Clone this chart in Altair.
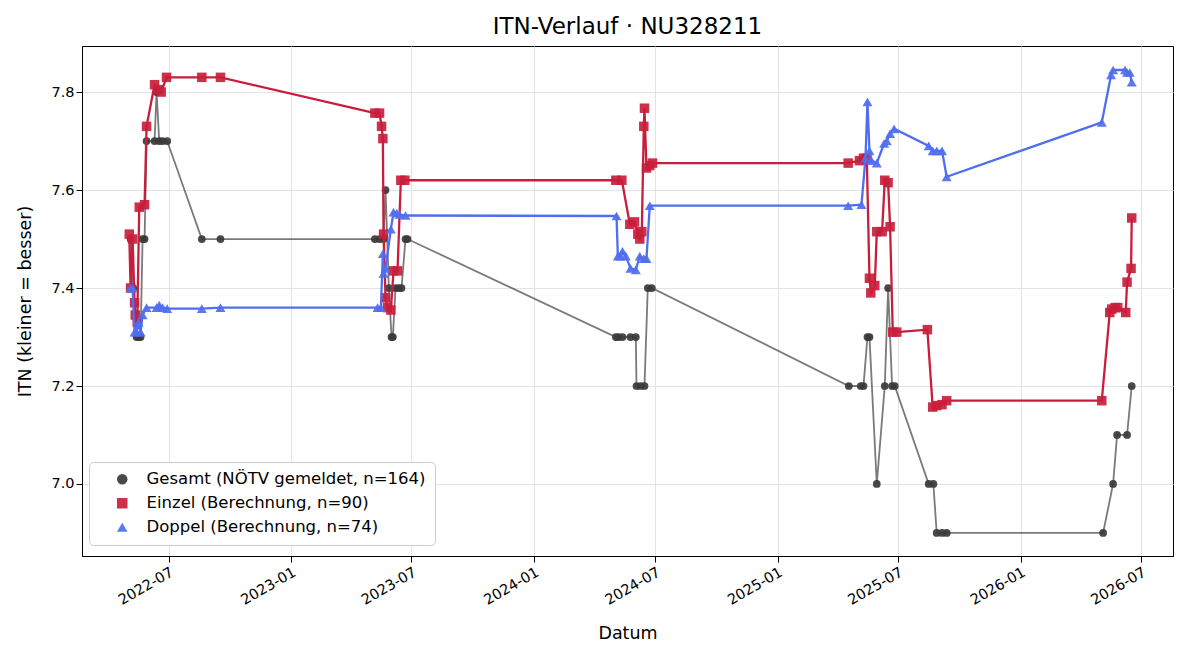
import altair as alt
import pandas as pd

series_names = [
    "Gesamt (NÖTV gemeldet, n=164)",
    "Einzel (Berechnung, n=90)",
    "Doppel (Berechnung, n=74)",
]

gesamt_dates = [
    "2022-05-05", "2022-05-09", "2022-05-14", "2022-05-17", "2022-05-20", "2022-05-23",
    "2022-05-26", "2022-05-29", "2022-06-10", "2022-06-13", "2022-06-17", "2022-06-22",
    "2022-06-29", "2022-08-20", "2022-09-17",
    "2023-05-07", "2023-05-14", "2023-05-20", "2023-05-23", "2023-05-28", "2023-06-01",
    "2023-06-03", "2023-06-07", "2023-06-12", "2023-06-16", "2023-06-22", "2023-06-25",
    "2024-05-03", "2024-05-07", "2024-05-13", "2024-05-25", "2024-06-02", "2024-06-03",
    "2024-06-09", "2024-06-15", "2024-06-20", "2024-06-26",
    "2025-04-18", "2025-05-06", "2025-05-10", "2025-05-16", "2025-05-19", "2025-05-30",
    "2025-06-11", "2025-06-16", "2025-06-22", "2025-06-26",
    "2025-08-16", "2025-08-23", "2025-08-28", "2025-09-05", "2025-09-12",
    "2026-05-05", "2026-05-20", "2026-05-26", "2026-06-10", "2026-06-17",
]
gesamt_values = [
    7.5, 7.4, 7.3, 7.3, 7.3, 7.5, 7.5, 7.7, 7.7, 7.8, 7.7, 7.7, 7.7, 7.5, 7.5,
    7.5, 7.5, 7.5, 7.6, 7.4, 7.3, 7.3, 7.4, 7.4, 7.4, 7.5, 7.5,
    7.3, 7.3, 7.3, 7.3, 7.3, 7.2, 7.2, 7.2, 7.4, 7.4,
    7.2, 7.2, 7.2, 7.3, 7.3, 7.0, 7.2, 7.4, 7.2, 7.2,
    7.0, 7.0, 6.9, 6.9, 6.9,
    6.9, 7.0, 7.1, 7.1, 7.2,
]

einzel_dates = [
    "2022-05-03", "2022-05-05", "2022-05-08", "2022-05-11", "2022-05-12", "2022-05-15",
    "2022-05-18", "2022-05-26", "2022-05-29", "2022-06-10", "2022-06-16", "2022-06-20",
    "2022-06-28", "2022-08-20", "2022-09-17",
    "2023-05-07", "2023-05-14", "2023-05-17", "2023-05-19", "2023-05-20", "2023-05-23",
    "2023-05-26", "2023-05-31", "2023-06-04", "2023-06-10", "2023-06-15", "2023-06-21",
    "2024-05-03", "2024-05-12", "2024-05-24", "2024-05-31", "2024-06-05", "2024-06-08",
    "2024-06-11", "2024-06-14", "2024-06-15", "2024-06-18", "2024-06-23", "2024-06-27",
    "2025-04-17", "2025-05-04", "2025-05-10", "2025-05-15", "2025-05-19", "2025-05-21",
    "2025-05-27", "2025-05-30", "2025-06-07", "2025-06-11", "2025-06-16", "2025-06-19",
    "2025-06-23", "2025-06-29",
    "2025-08-14", "2025-08-22", "2025-08-28", "2025-09-05", "2025-09-12",
    "2026-05-03", "2026-05-15", "2026-05-18", "2026-05-23", "2026-05-27", "2026-06-08",
    "2026-06-10", "2026-06-16", "2026-06-17",
]
einzel_values = [
    7.51, 7.40, 7.50, 7.37, 7.345, 7.33, 7.565, 7.57, 7.73, 7.815, 7.805, 7.80,
    7.83, 7.83, 7.83,
    7.757, 7.757, 7.73, 7.705, 7.51, 7.38, 7.36, 7.355, 7.435, 7.435, 7.62, 7.62,
    7.62, 7.62, 7.53, 7.535, 7.51, 7.50, 7.515, 7.73, 7.767, 7.645, 7.65, 7.655,
    7.655, 7.66, 7.665, 7.665, 7.42, 7.39, 7.405, 7.515, 7.515, 7.62, 7.615, 7.525,
    7.31, 7.31,
    7.315, 7.157, 7.16, 7.162, 7.17,
    7.17, 7.35, 7.357, 7.36, 7.36, 7.35, 7.412, 7.44, 7.543,
]

doppel_dates = [
    "2022-05-05", "2022-05-08", "2022-05-11", "2022-05-14", "2022-05-17", "2022-05-20",
    "2022-05-23", "2022-05-29", "2022-06-13", "2022-06-17", "2022-06-22", "2022-06-29",
    "2022-08-20", "2022-09-17",
    "2023-05-11", "2023-05-16", "2023-05-19", "2023-05-20", "2023-05-23", "2023-05-31",
    "2023-06-04", "2023-06-09", "2023-06-13", "2023-06-22",
    "2024-05-04", "2024-05-06", "2024-05-10", "2024-05-13", "2024-05-18", "2024-05-25",
    "2024-06-02", "2024-06-08", "2024-06-14", "2024-06-18", "2024-06-23",
    "2025-04-17", "2025-05-07", "2025-05-13", "2025-05-16", "2025-05-19", "2025-05-22",
    "2025-05-30", "2025-06-10", "2025-06-14", "2025-06-19", "2025-06-25",
    "2025-08-16", "2025-08-22", "2025-08-28", "2025-09-05", "2025-09-12",
    "2026-05-03", "2026-05-17", "2026-05-20", "2026-06-07", "2026-06-10", "2026-06-14",
    "2026-06-17",
]
doppel_values = [
    7.40, 7.40, 7.31, 7.31, 7.33, 7.31, 7.345, 7.36, 7.36, 7.365, 7.36, 7.358,
    7.358, 7.36,
    7.36, 7.36, 7.47, 7.43, 7.44, 7.52, 7.555, 7.553, 7.55, 7.548,
    7.547, 7.465, 7.465, 7.475, 7.465, 7.44, 7.437, 7.465, 7.46, 7.46, 7.568,
    7.568, 7.57, 7.665, 7.78, 7.68, 7.66, 7.655, 7.695, 7.70, 7.715, 7.725,
    7.69, 7.68, 7.68, 7.68, 7.627,
    7.738, 7.835, 7.845, 7.845, 7.84, 7.84, 7.82,
]

line_colors = ["#333333", "#c81e3c", "#4f6ef0"]
marker_colors = ["#3a3a3a", "#c81e3c", "#4f6ef0"]
shapes = ["circle", "square", "triangle-up"]

rows = []
for name, ds, vs in zip(series_names,
                        [gesamt_dates, einzel_dates, doppel_dates],
                        [gesamt_values, einzel_values, doppel_values]):
    for i, (d, v) in enumerate(zip(ds, vs)):
        rows.append({"Serie": name, "Datum": d, "ITN": v, "idx": i})
df = pd.DataFrame(rows)

tick_dates = [
    alt.DateTime(year=2022, month=7, date=1, utc=True),
    alt.DateTime(year=2023, month=1, date=1, utc=True),
    alt.DateTime(year=2023, month=7, date=1, utc=True),
    alt.DateTime(year=2024, month=1, date=1, utc=True),
    alt.DateTime(year=2024, month=7, date=1, utc=True),
    alt.DateTime(year=2025, month=1, date=1, utc=True),
    alt.DateTime(year=2025, month=7, date=1, utc=True),
    alt.DateTime(year=2026, month=1, date=1, utc=True),
    alt.DateTime(year=2026, month=7, date=1, utc=True),
]

FONT = "DejaVu Sans"

x_enc = alt.X(
    "Datum:T",
    title="Datum",
    scale=alt.Scale(
        type="utc",
        domain=[alt.DateTime(year=2022, month=2, date=21, utc=True),
                alt.DateTime(year=2026, month=8, date=18, utc=True)],
        nice=False,
    ),
    axis=alt.Axis(
        values=tick_dates,
        labelExpr="utcFormat(datum.value, '%Y-%m')",
        labelAngle=330, labelAlign="right", labelBaseline="top",
        labelPadding=3, titlePadding=18,
    ),
)
y_enc = alt.Y(
    "ITN:Q",
    title="ITN  (kleiner = besser)",
    scale=alt.Scale(domain=[6.853, 7.894], nice=False, zero=False),
    axis=alt.Axis(values=[7.0, 7.2, 7.4, 7.6, 7.8], format=".1f", titlePadding=16),
)

color_scale = alt.Scale(domain=series_names, range=marker_colors)
shape_scale = alt.Scale(domain=series_names, range=shapes)

layers = []
sizes = [60, 90, 100]
widths = [1.8, 2.3, 2.3]
line_op = [0.65, 1.0, 1.0]
for k, name in enumerate(series_names):
    base = alt.Chart(df).transform_filter(alt.datum.Serie == name)
    line = base.mark_line(
        color=line_colors[k], strokeWidth=widths[k], opacity=line_op[k]
    ).encode(x=x_enc, y=y_enc, order="idx:Q")
    pts = base.mark_point(filled=True, opacity=0.92, size=sizes[k]).encode(
        x=x_enc, y=y_enc,
        color=alt.Color("Serie:N", scale=color_scale, title=None,
                        legend=alt.Legend(
                            orient="none", legendX=7, legendY=416,
                            fillColor="white", strokeColor="#cccccc",
                            padding=9, cornerRadius=4,
                            labelFont=FONT, labelFontSize=16.5, labelColor="black",
                            symbolSize=110, rowPadding=7, labelOffset=16,
                            symbolOffset=16, labelLimit=400,
                        )),
        shape=alt.Shape("Serie:N", scale=shape_scale, title=None),
    )
    layers += [line, pts]

chart = alt.layer(*layers).properties(
    width=1091, height=510,
    title=alt.TitleParams("ITN-Verlauf · NU328211", fontSize=23, font=FONT,
                          fontWeight="normal", offset=7, color="black"),
    autosize=alt.AutoSizeParams(type="none"),
    padding={"left": 82, "top": 46, "right": 27, "bottom": 104},
).configure(
    font=FONT, background="white",
).configure_axis(
    labelFont=FONT, titleFont=FONT, labelFontSize=14.5, titleFontSize=17.5,
    titleFontWeight="normal", labelColor="black", titleColor="black",
    domainColor="black", tickColor="black", tickSize=6,
    gridColor="#e3e3e3", gridWidth=1,
).configure_view(
    stroke="black", strokeWidth=1,
)

chart.save("out.html", embed_options={"renderer": "svg", "actions": False})
